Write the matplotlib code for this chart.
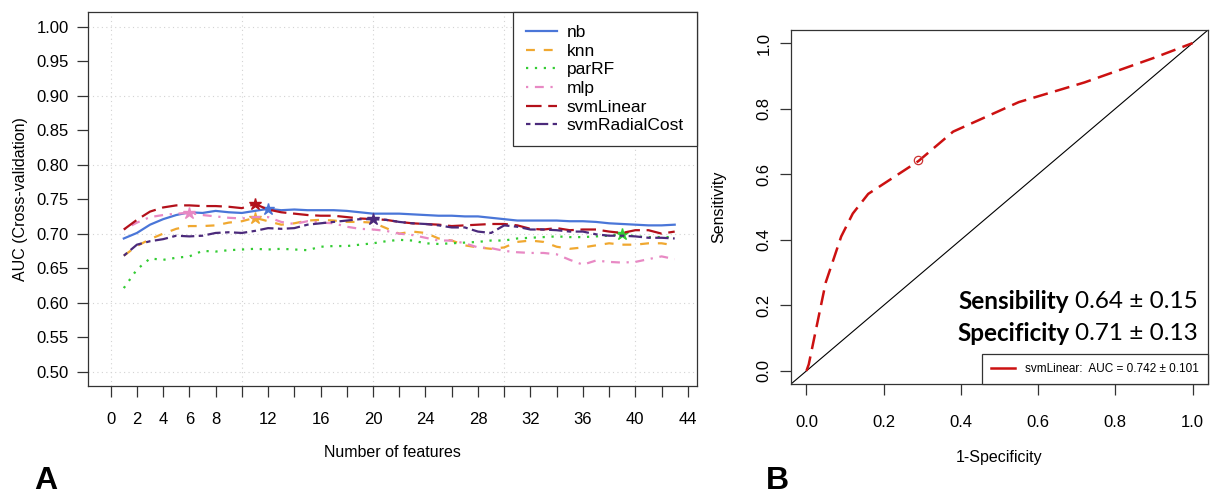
import numpy as np
import matplotlib.pyplot as plt
from matplotlib.lines import Line2D

plt.rcParams['font.family'] = ['Liberation Sans', 'DejaVu Sans']

# panel A: AUC by number of features (x = 1..43)
n_feat = np.arange(1, 44)
auc_nb = [0.693, 0.701, 0.713, 0.721, 0.727, 0.731, 0.730, 0.733, 0.731, 0.730,
          0.733, 0.736, 0.734, 0.735, 0.734, 0.734, 0.734, 0.733, 0.731, 0.729,
          0.729, 0.729, 0.728, 0.727, 0.726, 0.726, 0.725, 0.725, 0.723, 0.721,
          0.719, 0.719, 0.719, 0.719, 0.718, 0.718, 0.717, 0.715, 0.714, 0.713,
          0.712, 0.712, 0.713]
auc_knn = [0.668, 0.682, 0.692, 0.700, 0.707, 0.711, 0.711, 0.712, 0.716, 0.718,
           0.723, 0.718, 0.713, 0.715, 0.719, 0.720, 0.719, 0.717, 0.717, 0.716,
           0.708, 0.700, 0.703, 0.701, 0.693, 0.690, 0.683, 0.680, 0.678, 0.680,
           0.688, 0.690, 0.688, 0.681, 0.678, 0.680, 0.683, 0.686, 0.684, 0.684,
           0.686, 0.686, 0.683]
auc_parrf = [0.621, 0.648, 0.664, 0.662, 0.665, 0.667, 0.675, 0.674, 0.676, 0.677,
             0.678, 0.677, 0.678, 0.677, 0.676, 0.681, 0.682, 0.682, 0.684, 0.686,
             0.689, 0.691, 0.690, 0.686, 0.685, 0.686, 0.687, 0.688, 0.690, 0.690,
             0.693, 0.694, 0.695, 0.696, 0.695, 0.695, 0.696, 0.697, 0.700, 0.696,
             0.695, 0.695, 0.695]
auc_mlp = [0.706, 0.716, 0.724, 0.727, 0.729, 0.730, 0.727, 0.725, 0.723, 0.722,
           0.724, 0.724, 0.717, 0.714, 0.718, 0.716, 0.715, 0.710, 0.707, 0.706,
           0.704, 0.700, 0.698, 0.694, 0.690, 0.690, 0.686, 0.680, 0.679, 0.675,
           0.673, 0.672, 0.672, 0.670, 0.662, 0.655, 0.661, 0.659, 0.658, 0.659,
           0.663, 0.667, 0.663]
auc_svmlin = [0.706, 0.720, 0.732, 0.738, 0.741, 0.741, 0.740, 0.740, 0.739, 0.737,
              0.743, 0.735, 0.731, 0.729, 0.727, 0.726, 0.726, 0.724, 0.722, 0.721,
              0.720, 0.717, 0.715, 0.714, 0.713, 0.711, 0.712, 0.713, 0.714, 0.714,
              0.712, 0.707, 0.706, 0.708, 0.705, 0.706, 0.706, 0.703, 0.701, 0.705,
              0.705, 0.700, 0.703]
auc_svmrad = [0.668, 0.684, 0.689, 0.692, 0.697, 0.696, 0.697, 0.701, 0.702, 0.701,
              0.704, 0.708, 0.707, 0.708, 0.713, 0.715, 0.717, 0.719, 0.721, 0.721,
              0.720, 0.717, 0.715, 0.714, 0.712, 0.709, 0.709, 0.703, 0.701, 0.712,
              0.710, 0.706, 0.706, 0.705, 0.703, 0.703, 0.699, 0.697, 0.697, 0.696,
              0.694, 0.694, 0.693]

model_names = ['nb', 'knn', 'parRF', 'mlp', 'svmLinear', 'svmRadialCost']
model_auc = [auc_nb, auc_knn, auc_parrf, auc_mlp, auc_svmlin, auc_svmrad]
best_n = [12, 11, 39, 6, 11, 20]

# panel B: ROC of svmLinear
roc_fpr = [0.0, 0.006, 0.05, 0.09, 0.12, 0.16, 0.29, 0.38, 0.55, 0.72, 0.90, 1.0]
roc_tpr = [0.0, 0.02, 0.27, 0.41, 0.48, 0.54, 0.64, 0.73, 0.82, 0.88, 0.955, 1.0]
cut_fpr, cut_tpr = 0.29, 0.644

colors = ['#4a76d8', '#f0a830', '#33cc33', '#e889c4', '#b3101a', '#4b2a7b']
dashes = [None, (4, 4), (1, 3), (1, 3, 4, 3), (7, 3), (2, 2, 6, 2)]

W, H = 1212, 499
fig = plt.figure(figsize=(W / 100, H / 100), dpi=100)


def box(l, t, r, b):
    return [l / W, 1 - b / H, (r - l) / W, (b - t) / H]


edge = '#333333'

# ---- panel A
ax = fig.add_axes(box(88, 12, 697, 386))
ax.set_xlim(-1.73, 44.7)
ax.set_ylim(0.479, 1.0215)
for x in range(0, 50, 10):
    ax.axvline(x, color='#d3d3d3', lw=0.8, ls=(0, (1, 3)), zorder=0)
for y in np.arange(0.5, 1.01, 0.1):
    ax.axhline(y, color='#d3d3d3', lw=0.8, ls=(0, (1, 3)), zorder=0)

handles = []
for name, vals, c, d, bn in zip(model_names, model_auc, colors, dashes, best_n):
    ln, = ax.plot(n_feat, vals, color=c, lw=1.6, label=name)
    if d is not None:
        ln.set_dashes(d)
    ax.plot(bn, vals[bn - 1], marker='*', color=c, ms=9, ls='none')
    handles.append(ln)

xt = np.arange(0, 45, 2)
ax.set_xticks(xt)
ax.set_xticklabels(['' if (v >= 10 and v % 4 == 2) else str(v) for v in xt])
ax.set_yticks(np.arange(0.5, 1.001, 0.05))
ax.set_yticklabels(['%.2f' % v for v in np.arange(0.5, 1.001, 0.05)])
ax.tick_params(direction='out', length=8, width=0.9, color=edge, labelsize=12, pad=6)
ax.tick_params(axis='x', pad=11)
for s in ax.spines.values():
    s.set_color(edge)
    s.set_linewidth(0.9)
ax.set_xlabel('Number of features', fontsize=11.5, labelpad=13)
ax.set_ylabel('AUC (Cross-validation)', fontsize=11.5, labelpad=6)
leg = ax.legend(handles=handles, loc='upper right', borderaxespad=0, fancybox=False,
                fontsize=12.5, handlelength=1.8, handletextpad=0.55, labelspacing=0.2,
                borderpad=0.75, framealpha=1)
leg.get_frame().set_edgecolor(edge)
leg.get_frame().set_linewidth(0.9)

fig.text(46 / W, 1 - 481 / H, 'A', fontsize=23, fontweight='bold', ha='center', va='center')

# ---- panel B
bx = fig.add_axes(box(791, 30, 1208, 384))
bx.set_xlim(-0.04, 1.04)
bx.set_ylim(-0.04, 1.04)
bx.axline((0, 0), (1, 1), color='black', lw=0.8)
roc, = bx.plot(roc_fpr, roc_tpr, color='#cc1111', lw=1.8, dashes=(6, 3))
bx.plot(cut_fpr, cut_tpr, marker='o', mfc='none', mec='#cc3333', ms=6, mew=0.9)
bx.set_xticks(np.arange(0, 1.01, 0.2))
bx.set_yticks(np.arange(0, 1.01, 0.2))
bx.set_xticklabels(['%.1f' % v for v in np.arange(0, 1.01, 0.2)])
bx.set_yticklabels(['%.1f' % v for v in np.arange(0, 1.01, 0.2)], rotation=90, va='center')
bx.tick_params(direction='out', length=8, width=0.9, color=edge, labelsize=12, pad=6)
bx.tick_params(axis='x', pad=14)
for s in bx.spines.values():
    s.set_color(edge)
    s.set_linewidth(0.9)
bx.set_xlabel('1-Specificity', fontsize=11.5, labelpad=15)
bx.set_ylabel('Sensitivity', fontsize=11.5, labelpad=22)
leg2 = bx.legend([Line2D([0], [0], color='#cc1111', lw=1.8)],
                 ['svmLinear:  AUC = 0.742 \u00b1 0.101'], loc='lower right',
                 borderaxespad=0, fancybox=False, fontsize=8.5, handlelength=2.0,
                 borderpad=0.75, handletextpad=0.9, framealpha=1)
leg2.get_frame().set_edgecolor(edge)
leg2.get_frame().set_linewidth(0.9)

stats = [('Sensibility', '0.64 \u00b1 0.15', 0.232), ('Specificity', '0.71 \u00b1 0.13', 0.144)]
fig.canvas.draw()
rend = fig.canvas.get_renderer()
for bold, val, yy in stats:
    t = bx.text(0.976, yy, val, transform=bx.transAxes, ha='right', va='center',
                fontsize=17.5, family=['Lato', 'DejaVu Sans'])
    ext = t.get_window_extent(rend)
    x0 = bx.transAxes.inverted().transform((ext.x0 - 6, 0))[0]
    bx.text(x0, yy, bold, transform=bx.transAxes, ha='right', va='center',
            fontsize=17.5, fontweight='bold', family=['Lato', 'DejaVu Sans'])

fig.text(777 / W, 1 - 481 / H, 'B', fontsize=23, fontweight='bold', ha='center', va='center')

fig.savefig('out.png', dpi=100)
